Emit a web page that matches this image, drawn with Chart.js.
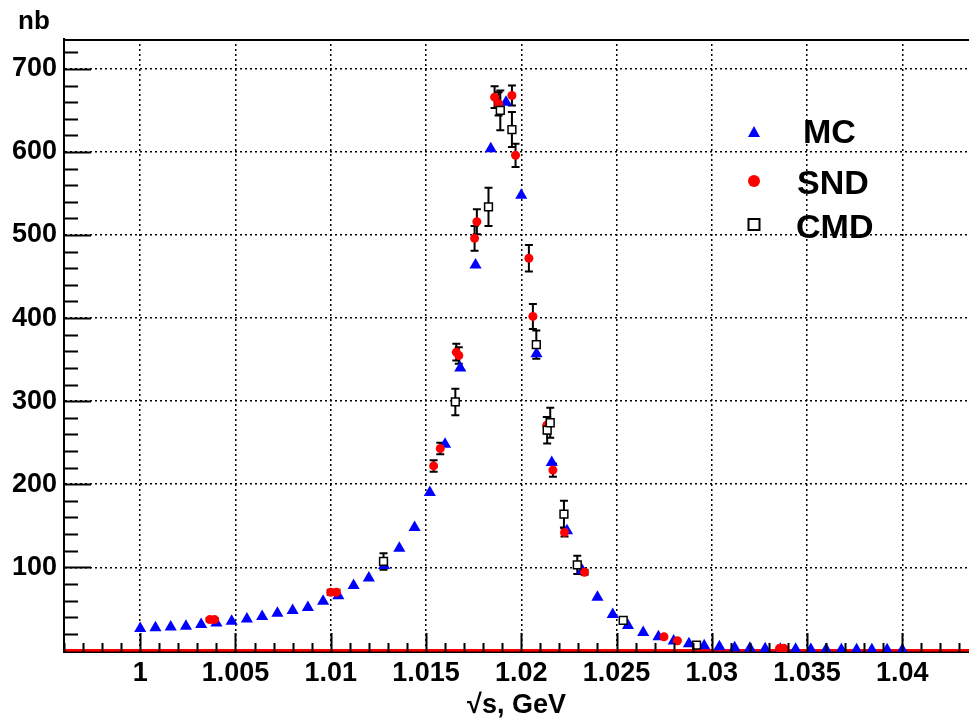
<!DOCTYPE html>
<html lang="en">
<head>
<meta charset="UTF-8">
<title>Cross section near the phi peak</title>
<script src="https://cdn.jsdelivr.net/npm/chart.js"></script>
<style>
  html, body { margin: 0; padding: 0; background: #fff; }
  #wrap { width: 969px; height: 723px; }
</style>
</head>
<body>
<div id="wrap"><canvas id="xsChart" width="969" height="723"></canvas></div>
<script>
// MC prediction, one point every 0.8 MeV
const mcX = [1.0000, 1.0008, 1.0016, 1.0024, 1.0032, 1.0040, 1.0048, 1.0056, 1.0064, 1.0072,
             1.0080, 1.0088, 1.0096, 1.0104, 1.0112, 1.0120, 1.0128, 1.0136, 1.0144, 1.0152,
             1.0160, 1.0168, 1.0176, 1.0184, 1.0192, 1.0200, 1.0208, 1.0216, 1.0224, 1.0232,
             1.0240, 1.0248, 1.0256, 1.0264, 1.0272, 1.0280, 1.0288, 1.0296, 1.0304, 1.0312,
             1.0320, 1.0328, 1.0336, 1.0344, 1.0352, 1.0360, 1.0368, 1.0376, 1.0384, 1.0392,
             1.0400];
const mcY = [26.4, 27.2, 28, 29, 31, 33, 35, 37.6, 40.8, 44.8,
             48, 51.6, 59, 65.6, 78, 87, 102, 123, 148, 190,
             248, 340, 464, 604, 660, 548, 357, 226, 144, 96,
             64, 43, 30, 21.6, 16.4, 11.2, 8, 5.6, 4.4, 3.2,
             2.6, 1.8, 1.4, 1.2, 1.0, 0.9, 0.8, 0.7, 0.6, 0.6,
             0.5];

// SND data
const sndX = [1.00365, 1.0039, 1.0100, 1.0103, 1.0154, 1.01575, 1.01659, 1.01672, 1.01755, 1.01767,
              1.0186, 1.01881, 1.01951, 1.0197, 1.0204, 1.02061, 1.02134, 1.02166, 1.02227, 1.02332,
              1.02749, 1.02819, 1.03356, 1.03378];
const sndY = [37, 37, 70, 70, 222, 243, 359, 355, 496, 516,
              666, 658, 668, 596, 472, 402, 271, 217, 142, 94,
              16.4, 11.6, 2.4, 2.4];
const sndErr = [2, 2, 3, 3, 7, 7, 10, 10, 15, 15,
                13, 14, 12, 14, 16, 15, 10, 8, 5, 3,
                1, 1, 0.5, 0.5];

// CMD data
const cmdX = [1.01277, 1.01654, 1.01828, 1.0189, 1.01951, 1.02079, 1.02136, 1.02152, 1.02224, 1.02294,
              1.02535, 1.0292];
const cmdY = [107, 299, 534, 650, 627, 368, 265, 274, 164, 103, 36, 6.4];
const cmdErr = [10, 16, 23, 24, 21, 17, 16, 18, 16, 11, 3, 1];

// red base line
const baseX = [0.996, 1.0435];
const baseY = [0, 0];

const xTicks = [1, 1.005, 1.01, 1.015, 1.02, 1.025, 1.03, 1.035, 1.04];
const xTickLabels = ["1", "1.005", "1.01", "1.015", "1.02", "1.025", "1.03", "1.035", "1.04"];
const yTicks = [100, 200, 300, 400, 500, 600, 700];
const yTickLabels = ["100", "200", "300", "400", "500", "600", "700"];

const legendNames = ["MC", "SND", "CMD"];

const FONT = "'Liberation Sans', Arial, Helvetica, sans-serif";

function toPoints(xs, ys) {
  return xs.map((x, i) => ({ x: x, y: ys[i] }));
}

// ROOT-like frame: inward ticks, error bars, legend, axis unit
const rootStyle = {
  id: 'rootStyle',
  beforeDatasetsDraw(chart) {
    const ctx = chart.ctx;
    const ys = chart.scales.y;
    ctx.save();
    ctx.strokeStyle = '#000';
    ctx.lineWidth = 2;
    chart.data.datasets.forEach((ds, i) => {
      if (!ds.errorBars) return;
      const meta = chart.getDatasetMeta(i);
      meta.data.forEach((el, j) => {
        const v = ds.data[j].y, e = ds.errorBars[j];
        if (!e) return;
        const yt = ys.getPixelForValue(v + e);
        const yb = ys.getPixelForValue(v - e);
        const cap = 4;
        ctx.beginPath();
        ctx.moveTo(el.x, yt); ctx.lineTo(el.x, yb);
        ctx.moveTo(el.x - cap, yt); ctx.lineTo(el.x + cap, yt);
        ctx.moveTo(el.x - cap, yb); ctx.lineTo(el.x + cap, yb);
        ctx.stroke();
      });
    });
    ctx.restore();
  },
  afterDraw(chart) {
    const ctx = chart.ctx;
    const { left, right, top, bottom } = chart.chartArea;
    const xs = chart.scales.x, ys = chart.scales.y;
    ctx.save();
    ctx.strokeStyle = '#000';
    ctx.lineWidth = 2;
    // top frame
    ctx.beginPath();
    ctx.moveTo(left, top + 1); ctx.lineTo(right, top + 1);
    ctx.stroke();
    // y ticks
    ctx.beginPath();
    for (let v = 20; v <= 720; v += 20) {
      const p = Math.round(ys.getPixelForValue(v)) + 0.5;
      const len = v % 100 === 0 ? 27 : 14;
      ctx.moveTo(left, p); ctx.lineTo(left + len, p);
    }
    // x ticks
    for (let k = 996; k <= 1043; k++) {
      const p = Math.round(xs.getPixelForValue(k / 1000)) + 0.5;
      const len = k % 5 === 0 ? 19 : 9;
      ctx.moveTo(p, bottom); ctx.lineTo(p, bottom - len);
    }
    ctx.stroke();

    // axis unit
    ctx.fillStyle = '#000';
    ctx.font = 'bold 26px ' + FONT;
    ctx.textBaseline = 'alphabetic';
    ctx.textAlign = 'left';
    ctx.fillText('nb', 18, 29);

    // legend
    const mx = 754;
    ctx.fillStyle = '#0000ff';
    ctx.beginPath();
    ctx.moveTo(mx, 126); ctx.lineTo(mx + 6, 137); ctx.lineTo(mx - 6, 137); ctx.closePath();
    ctx.fill();
    ctx.fillStyle = '#ff0000';
    ctx.beginPath();
    ctx.arc(mx, 181, 6, 0, Math.PI * 2);
    ctx.fill();
    ctx.strokeStyle = '#000';
    ctx.lineWidth = 2;
    ctx.strokeRect(mx - 5.5, 219, 11, 11);

    ctx.fillStyle = '#000';
    ctx.font = 'bold 34px ' + FONT;
    ctx.fillText(legendNames[0], 803, 143);
    ctx.fillText(legendNames[1], 797, 194);
    ctx.fillText(legendNames[2], 796, 238);
    ctx.restore();
  }
};

const ctx = document.getElementById('xsChart').getContext('2d');
new Chart(ctx, {
  type: 'scatter',
  data: {
    datasets: [
      {
        label: 'CMD',
        data: toPoints(cmdX, cmdY),
        errorBars: cmdErr,
        pointStyle: 'rect',
        pointRadius: 5.5,
        backgroundColor: '#ffffff',
        borderColor: '#000000',
        borderWidth: 1.5,
        order: 0
      },
      {
        label: 'SND',
        data: toPoints(sndX, sndY),
        errorBars: sndErr,
        pointStyle: 'circle',
        pointRadius: 4.5,
        backgroundColor: '#ff0000',
        borderWidth: 0,
        order: 1
      },
      {
        label: 'MC',
        data: toPoints(mcX, mcY),
        pointStyle: 'triangle',
        pointRadius: 7,
        backgroundColor: '#0000ff',
        borderWidth: 0,
        order: 2
      },
      {
        label: 'base',
        type: 'line',
        data: toPoints(baseX, baseY),
        borderColor: '#ff0000',
        borderWidth: 2.5,
        pointRadius: 0,
        showLine: true,
        order: 3
      }
    ]
  },
  options: {
    responsive: false,
    animation: false,
    layout: { autoPadding: false, padding: { top: 39, left: 0, right: 0, bottom: 0 } },
    plugins: {
      legend: { display: false },
      tooltip: { enabled: false }
    },
    scales: {
      x: {
        type: 'linear',
        min: 0.996,
        max: 1.0435,
        afterBuildTicks: s => { s.ticks = xTicks.map(v => ({ value: v })); },
        afterFit: s => { s.height = 71; s.paddingLeft = 0; s.paddingRight = 0; },
        grid: { color: '#000', lineWidth: 1.5, drawTicks: false },
        border: { display: true, color: '#000', width: 2, dash: [2, 3] },
        ticks: {
          color: '#000',
          font: { family: FONT, size: 27, weight: 'bold' },
          padding: 5,
          maxRotation: 0,
          autoSkip: false,
          callback: (v, i) => xTickLabels[i]
        },
        title: {
          display: true,
          text: '√s, GeV',
          color: '#000',
          font: { family: FONT, size: 27, weight: 'bold' },
          padding: { top: 0, bottom: 1 }
        }
      },
      y: {
        type: 'linear',
        min: -2,
        max: 736,
        afterBuildTicks: s => { s.ticks = yTicks.map(v => ({ value: v })); },
        afterFit: s => { s.width = 64; },
        grid: { color: '#000', lineWidth: 1.5, drawTicks: false },
        border: { display: true, color: '#000', width: 2, dash: [2, 3] },
        ticks: {
          color: '#000',
          font: { family: FONT, size: 27, weight: 'bold' },
          padding: 7,
          callback: (v, i) => yTickLabels[i]
        }
      }
    }
  },
  plugins: [rootStyle]
});
</script>
</body>
</html>
